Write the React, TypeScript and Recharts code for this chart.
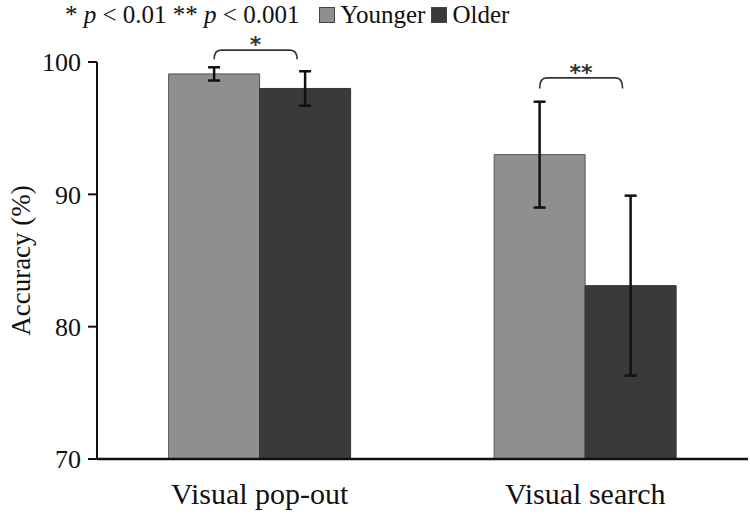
import { BarChart, Bar, XAxis, YAxis, ErrorBar, LabelList } from 'recharts';

const categories = ['Visual pop-out', 'Visual search'];
const younger = [99.1, 93.0];
const older = [98.0, 83.1];
const youngerErr = [0.5, 4.0];
const olderErr = [1.3, 6.8];
// bracket top / end levels and significance marks
const bracketTop = [100.9, 98.8];
const bracketEnd = [100.2, 98.0];
const sigMarks = ['*', '**'];
const yTicks = [70, 80, 90, 100];

const seriesNames = ['Younger', 'Older'];
const COLORS = ['#8f8f8f', '#3a3a3a'];
const FONT = '"Liberation Serif", "Times New Roman", serif';

const data = categories.map((name, i) => ({
  name,
  younger: younger[i],
  older: older[i],
  youngerErr: youngerErr[i],
  olderErr: olderErr[i],
  bracketTop: bracketTop[i],
  bracketEnd: bracketEnd[i],
  sig: sigMarks[i],
}));

// draws the significance bracket from the younger bar centre to the older bar
const Bracket = (props: any) => {
  const { x, y, width, height, index } = props;
  const d = data[index];
  const px = height / (d.younger - 70);
  const base = y + height;
  const yTop = base - (d.bracketTop - 70) * px;
  const yEnd = base - (d.bracketEnd - 70) * px;
  const x1 = x + width / 2;
  const x2 = x + width * 1.5 - 8;
  const r = 7;
  return (
    <g>
      <path
        d={`M${x1},${yEnd} Q${x1},${yTop} ${x1 + r},${yTop} L${x2 - r},${yTop} Q${x2},${yTop} ${x2},${yEnd}`}
        fill="none"
        stroke="#333"
        strokeWidth={1.6}
      />
      <text
        x={(x1 + x2) / 2}
        y={yTop + 2}
        textAnchor="middle"
        fontFamily={'"DejaVu Sans", sans-serif'}
        fontSize={22}
        fontWeight="bold"
        fill="#333"
      >
        {d.sig}
      </text>
    </g>
  );
};

export default function App() {
  return (
    <div style={{ position: 'absolute', left: 0, top: 0, width: 750, height: 519, background: '#fff' }}>
      <div
        style={{
          position: 'absolute',
          left: 65,
          top: 1,
          display: 'flex',
          alignItems: 'center',
          fontFamily: FONT,
          fontSize: 25,
          color: '#111',
          whiteSpace: 'nowrap',
          zIndex: 2,
        }}
      >
        <span>
          * <i>p</i> &lt; 0.01 ** <i>p</i> &lt; 0.001
        </span>
        {seriesNames.map((s, i) => (
          <span key={s} style={{ display: 'flex', alignItems: 'center', marginLeft: i === 0 ? 20 : 6 }}>
            <span
              style={{
                display: 'inline-block',
                width: 14,
                height: 14,
                background: COLORS[i],
                border: '1px solid #444',
                marginRight: 5,
              }}
            />
            {s}
          </span>
        ))}
      </div>
      <BarChart
        width={750}
        height={519}
        data={data}
        margin={{ top: 62, right: 2, bottom: 0, left: 0 }}
        barGap={0}
        barCategoryGap="22%"
      >
        <XAxis
          dataKey="name"
          height={60}
          tickLine={false}
          tickSize={0}
          tickMargin={24}
          axisLine={{ stroke: '#111', strokeWidth: 2.5 }}
          tick={{ fontFamily: FONT, fontSize: 30, fill: '#111' }}
        />
        <YAxis
          width={97}
          domain={[70, 100]}
          ticks={yTicks}
          allowDataOverflow
          tickSize={9}
          tickMargin={7}
          axisLine={{ stroke: '#111', strokeWidth: 2 }}
          tickLine={{ stroke: '#111', strokeWidth: 2 }}
          tick={{ fontFamily: FONT, fontSize: 26, fill: '#111' }}
          label={{
            value: 'Accuracy (%)',
            angle: -90,
            position: 'insideLeft',
            offset: 20,
            style: { textAnchor: 'middle', fontFamily: FONT, fontSize: 27, fill: '#111' },
          }}
        />
        <Bar dataKey="younger" fill={COLORS[0]} stroke="#555" strokeWidth={1} isAnimationActive={false}>
          <ErrorBar dataKey="youngerErr" width={6} stroke="#111" strokeWidth={2.5} />
          <LabelList dataKey="younger" content={Bracket} />
        </Bar>
        <Bar dataKey="older" fill={COLORS[1]} stroke="#333" strokeWidth={1} isAnimationActive={false}>
          <ErrorBar dataKey="olderErr" width={6} stroke="#111" strokeWidth={2.5} />
        </Bar>
      </BarChart>
    </div>
  );
}
